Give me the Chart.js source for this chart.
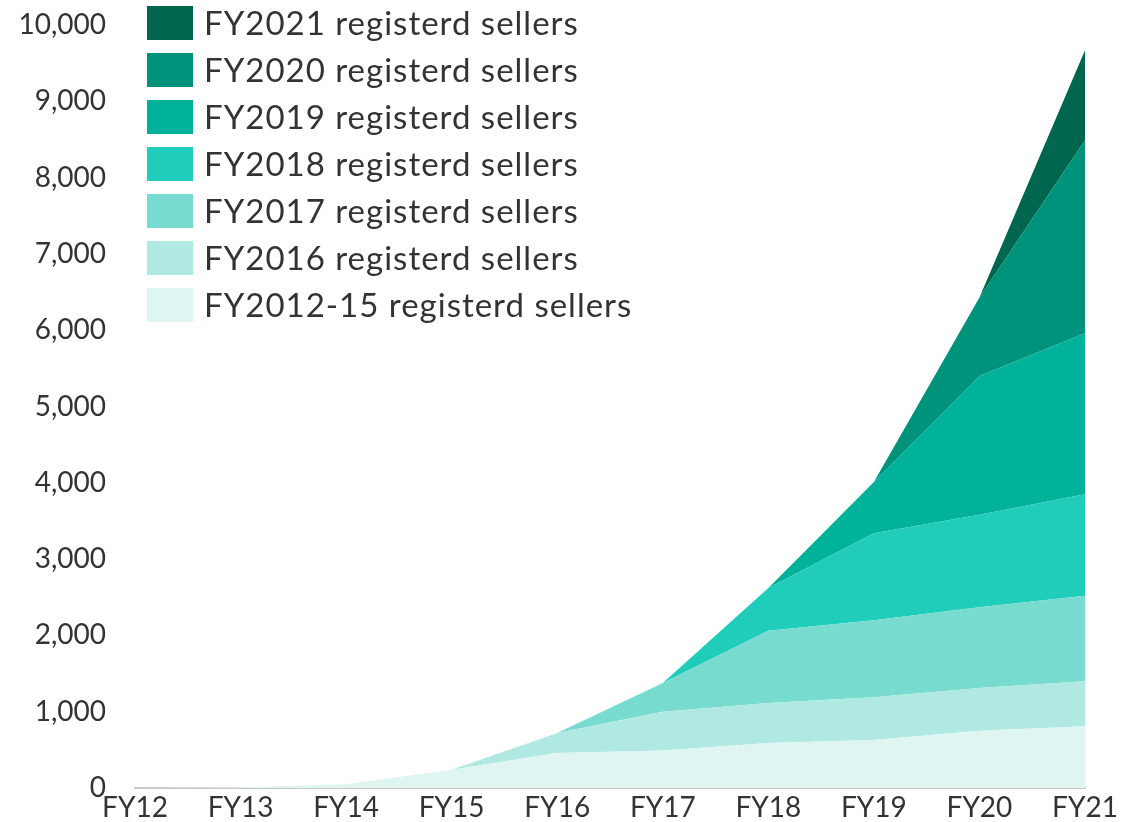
<!DOCTYPE html>
<html>
<head>
<meta charset="utf-8">
<script src="https://cdn.jsdelivr.net/npm/chart.js@4.4.1/dist/chart.umd.min.js"></script>
<style>
html,body{margin:0;padding:0;background:#fff;}
#wrap{position:relative;width:1142px;height:822px;}
</style>
</head>
<body>
<div id="wrap"><canvas id="c" width="1142" height="822"></canvas></div>
<script>
const categories = ["FY12","FY13","FY14","FY15","FY16","FY17","FY18","FY19","FY20","FY21"];
const seriesNames = ["FY2012-15 registerd sellers","FY2016 registerd sellers","FY2017 registerd sellers","FY2018 registerd sellers","FY2019 registerd sellers","FY2020 registerd sellers","FY2021 registerd sellers"];
const fy2012_15 = [0, 10, 50, 240, 460, 490, 590, 630, 750, 810];
const fy2016    = [0, 0, 0, 0, 260, 510, 525, 560, 560, 590];
const fy2017    = [0, 0, 0, 0, 0, 375, 945, 1010, 1060, 1120];
const fy2018    = [0, 0, 0, 0, 0, 0, 560, 1140, 1210, 1330];
const fy2019    = [0, 0, 0, 0, 0, 0, 0, 670, 1820, 2110];
const fy2020    = [0, 0, 0, 0, 0, 0, 0, 0, 1030, 2530];
const fy2021    = [0, 0, 0, 0, 0, 0, 0, 0, 0, 1180];
const yTicks = [0,1000,2000,3000,4000,5000,6000,7000,8000,9000,10000];
const colors = ["#dff5f2","#b0e9e2","#77dbcf","#20ccba","#00b29a","#00937b","#00664d"];

const seriesValues = [fy2012_15, fy2016, fy2017, fy2018, fy2019, fy2020, fy2021];
const FONT = "Lato, 'Noto Sans', sans-serif";

const datasets = seriesValues.map((v, i) => ({
  label: seriesNames[i],
  data: v,
  backgroundColor: colors[i],
  borderColor: colors[i],
  borderWidth: 0,
  pointRadius: 0,
  pointHoverRadius: 0,
  tension: 0,
  fill: i === 0 ? 'origin' : '-1'
}));

const insideLegend = {
  id: 'insideLegend',
  afterDraw(chart) {
    const ctx = chart.ctx;
    ctx.save();
    ctx.font = "33px " + FONT;
    try { ctx.letterSpacing = '1px'; } catch (e) {}
    ctx.textBaseline = 'middle';
    ctx.textAlign = 'left';
    const ds = chart.data.datasets.slice().reverse();
    const x0 = 147, y0 = 6, boxW = 46, boxH = 34, pitch = 47;
    ds.forEach((d, i) => {
      const y = y0 + i * pitch;
      ctx.fillStyle = d.backgroundColor;
      ctx.fillRect(x0, y, boxW, boxH);
      ctx.fillStyle = '#333333';
      ctx.fillText(d.label, 204, y + boxH / 2 + 1);
    });
    ctx.restore();
  }
};

new Chart(document.getElementById('c'), {
  type: 'line',
  data: { labels: categories, datasets },
  plugins: [insideLegend],
  options: {
    responsive: false,
    animation: false,
    events: [],
    layout: { padding: { top: 25, right: 57, left: 0, bottom: 0 } },
    plugins: { legend: { display: false }, tooltip: { enabled: false } },
    scales: {
      x: {
        offset: false,
        grid: { display: false, drawTicks: false },
        border: { display: true, color: '#c8c8c8', width: 2 },
        ticks: { color: '#333333', font: { family: FONT, size: 28 }, padding: 3, maxRotation: 0, autoSkip: false },
        afterFit(s) { s.height = 34; }
      },
      y: {
        stacked: true,
        min: 0, max: 10000,
        grid: { display: false, drawTicks: false },
        border: { display: false },
        afterBuildTicks(s) { s.ticks = yTicks.map(v => ({ value: v })); },
        ticks: {
          color: '#333333', font: { family: FONT, size: 28 }, padding: 29,
          callback: v => Number(v).toLocaleString('en-US')
        },
        afterFit(s) { s.width = 135; s.paddingTop = 0; s.paddingBottom = 0; }
      }
    }
  }
});
</script>
</body>
</html>
